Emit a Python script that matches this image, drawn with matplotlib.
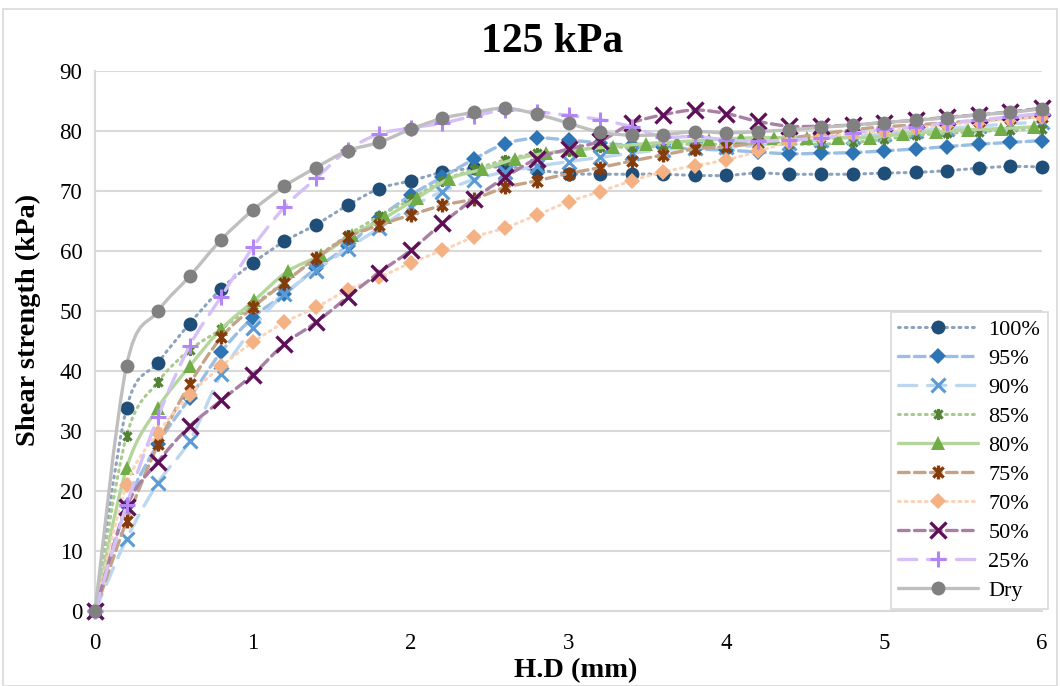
import numpy as np
import matplotlib
matplotlib.use("Agg")
import matplotlib.pyplot as plt
from matplotlib.path import Path
from matplotlib.patches import PathPatch, Rectangle
from matplotlib.lines import Line2D

plt.rcParams['font.family'] = ['Liberation Serif', 'DejaVu Serif']

# Horizontal displacement (mm)
hd = [0.0, 0.2, 0.4, 0.6, 0.8, 1.0, 1.2, 1.4, 1.6, 1.8, 2.0, 2.2, 2.4, 2.6, 2.8, 3.0,
      3.2, 3.4, 3.6, 3.8, 4.0, 4.2, 4.4, 4.6, 4.8, 5.0, 5.2, 5.4, 5.6, 5.8, 6.0]
hd_80 = [0.0, 0.2, 0.4, 0.6, 0.8, 1.01, 1.22, 1.43, 1.63, 1.84, 2.04, 2.24, 2.45, 2.66, 2.86,
         3.07, 3.28, 3.49, 3.69, 3.89, 4.09, 4.30, 4.51, 4.71, 4.91, 5.12, 5.33, 5.53, 5.74, 5.95]

# Shear strength (kPa) per saturation level
s100 = [0, 33.8, 41.4, 47.9, 53.7, 58.0, 61.6, 64.4, 67.6, 70.4, 71.7,
        73.1, 73.8, 74.0, 73.5, 72.9, 72.8, 72.8, 72.8, 72.6, 72.6,
        73.0, 72.8, 72.8, 72.8, 73.0, 73.1, 73.4, 73.8, 74.1, 74.0]
s95 = [0, 17.5, 27.9, 35.5, 43.2, 48.9, 52.8, 57.1, 60.8, 65.5, 69.3,
       72.3, 75.3, 77.9, 78.8, 78.5, 78.0, 77.6, 77.3, 77.0, 76.8,
       76.5, 76.2, 76.3, 76.4, 76.7, 77.0, 77.4, 77.8, 78.1, 78.4]
s90 = [0, 12.0, 21.4, 28.4, 39.5, 47.1, 52.9, 56.7, 60.4, 63.8, 67.3,
       69.9, 71.9, 73.2, 74.1, 74.9, 75.6, 76.3, 76.9, 77.2, 77.3,
       77.6, 78.0, 78.5, 79.0, 79.5, 80.0, 80.4, 80.8, 81.2, 81.5]
s85 = [0, 29.2, 38.2, 43.5, 47.0, 51.0, 54.8, 58.9, 62.6, 65.8, 68.6,
       71.7, 73.6, 75.2, 76.3, 76.6, 77.3, 77.3, 77.7, 77.8, 77.8,
       77.8, 77.8, 77.8, 78.1, 78.6, 79.3, 79.6, 79.9, 80.2, 80.4]
s80 = [0, 23.8, 33.9, 40.8, 47.0, 51.8, 56.6, 59.3, 62.7, 65.6, 68.8,
       72.0, 73.6, 75.3, 76.3, 76.9, 77.4, 77.9, 78.2, 78.5, 78.8,
       78.9, 78.9, 78.9, 78.9, 79.5, 79.9, 80.2, 80.4, 80.7]
s75 = [0, 15.0, 27.8, 37.8, 45.6, 50.6, 54.7, 58.8, 62.3, 64.3, 66.0,
       67.6, 68.7, 70.6, 71.7, 72.9, 73.9, 75.0, 76.0, 77.0, 77.4,
       78.0, 78.8, 79.5, 80.2, 80.7, 81.0, 81.4, 81.7, 82.1, 82.4]
s70 = [0, 21.0, 29.7, 36.0, 40.8, 44.8, 48.1, 50.6, 53.5, 55.6, 58.0,
       60.1, 62.3, 63.9, 66.0, 68.2, 69.9, 71.7, 73.2, 74.2, 75.2,
       76.6, 78.2, 79.0, 79.5, 80.0, 80.5, 81.0, 81.5, 82.0, 82.3]
s50 = [0, 17.4, 24.9, 30.8, 35.1, 39.4, 44.5, 48.1, 52.3, 56.4, 60.1,
       64.6, 68.7, 72.3, 75.4, 77.0, 78.3, 81.3, 82.7, 83.5, 82.9,
       81.6, 80.8, 80.8, 81.0, 81.4, 81.8, 82.3, 82.7, 83.2, 83.8]
s25 = [0, 17.7, 32.4, 44.2, 52.4, 60.6, 67.3, 72.1, 76.8, 79.5, 80.5,
       81.3, 82.5, 83.5, 83.2, 82.6, 81.9, 80.7, 79.0, 79.1, 78.5,
       78.3, 78.5, 78.8, 79.6, 80.3, 80.7, 81.4, 81.8, 82.4, 82.9]
s_dry = [0, 40.9, 50.0, 55.8, 61.9, 66.8, 70.8, 73.9, 76.7, 78.1, 80.3,
         82.1, 83.1, 83.8, 82.8, 81.3, 79.8, 79.3, 79.4, 79.9, 79.7,
         79.9, 80.2, 80.6, 81.0, 81.4, 81.8, 82.2, 82.7, 83.1, 83.7]

labels = ['100%', '95%', '90%', '85%', '80%', '75%', '70%', '50%', '25%', 'Dry']
x_tick_labels = ['0', '1', '2', '3', '4', '5', '6']
y_tick_labels = ['0', '10', '20', '30', '40', '50', '60', '70', '80', '90']

# asterisk marker: an x crossed by a vertical bar
star = Path([(-1, -1), (1, 1), (-1, 1), (1, -1), (0, -1.35), (0, 1.35)],
            [Path.MOVETO, Path.LINETO, Path.MOVETO, Path.LINETO, Path.MOVETO, Path.LINETO])

dotted = (0, (0.6, 1.6))
dashed = (0, (3.2, 1.6))
longdash = (0, (5.5, 3.2))

styles = [
    dict(x=hd, y=s100, lc='#8EA3BB', ls=dotted, m='o', mc='#1F4E79', ms=10, mew=0, lw=2.2),
    dict(x=hd, y=s95, lc='#9BBFE3', ls=dashed, m='D', mc='#2E75B6', ms=8, mew=0, lw=2.4),
    dict(x=hd, y=s90, lc='#BDD7EE', ls=longdash, m='x', mc='#5B9BD5', ms=10, mew=2.2, lw=2.4),
    dict(x=hd, y=s85, lc='#A9C98F', ls=dotted, m=star, mc='#548235', ms=8, mew=2.2, lw=2.2),
    dict(x=hd_80, y=s80, lc='#B4D69D', ls='-', m='^', mc='#70AD47', ms=10, mew=0, lw=2.4),
    dict(x=hd, y=s75, lc='#C4A389', ls=dashed, m=star, mc='#843C0C', ms=10, mew=2.4, lw=2.4),
    dict(x=hd, y=s70, lc='#FAD3B8', ls=dotted, m='D', mc='#F4B183', ms=8, mew=0, lw=2.2),
    dict(x=hd, y=s50, lc='#A97FA4', ls=dashed, m='x', mc='#5E1157', ms=11, mew=2.4, lw=2.4),
    dict(x=hd, y=s25, lc='#D6C0F8', ls=longdash, m='+', mc='#B385F5', ms=12, mew=2.2, lw=2.4),
    dict(x=hd, y=s_dry, lc='#BFBFBF', ls='-', m='o', mc='#808080', ms=10, mew=0, lw=2.4),
]


def smooth_path(x, y):
    p = np.column_stack([x, y]).astype(float)
    n = len(p)
    verts = [p[0]]
    codes = [Path.MOVETO]
    for i in range(n - 1):
        p0 = p[max(i - 1, 0)]
        p1 = p[i]
        p2 = p[i + 1]
        p3 = p[min(i + 2, n - 1)]
        verts += [p1 + (p2 - p0) / 6.0, p2 - (p3 - p1) / 6.0, p2]
        codes += [Path.CURVE4] * 3
    return Path(verts, codes)


W, H = 1060, 686
fig = plt.figure(figsize=(W / 100, H / 100), dpi=100)
fig.patch.set_facecolor('white')
fig.add_artist(Rectangle((3 / W, 0), 1054 / W, 1 - 9 / H, transform=fig.transFigure,
                         fill=False, edgecolor='#D9D9D9', linewidth=1.2))

ax = fig.add_axes([95 / W, 1 - 611 / H, (1042 - 95) / W, (611 - 71) / H])
ax.set_xlim(0, 6)
ax.set_ylim(0, 90)
ax.set_xticks(range(7))
ax.set_xticklabels(x_tick_labels)
ax.set_yticks(range(0, 91, 10))
ax.set_yticklabels(y_tick_labels)
ax.tick_params(axis='both', length=0, labelsize=16.5)
ax.tick_params(axis='x', pad=16)
ax.tick_params(axis='y', pad=9)
ax.yaxis.grid(True, color='#D9D9D9', linewidth=1.5)
ax.set_axisbelow(True)
for side in ['top', 'right']:
    ax.spines[side].set_visible(False)
for side in ['left', 'bottom']:
    ax.spines[side].set_color('#D9D9D9')
    ax.spines[side].set_linewidth(1.5)

handles = []
for k, st in enumerate(styles):
    z = 3 + k * 2
    patch = PathPatch(smooth_path(st['x'], st['y']), fill=False, edgecolor=st['lc'],
                      linewidth=st['lw'], linestyle=st['ls'], capstyle='round',
                      zorder=z, clip_on=False)
    ax.add_patch(patch)
    filled = st['mew'] == 0
    ax.plot(st['x'], st['y'], linestyle='none', marker=st['m'], markersize=st['ms'],
            markerfacecolor=st['mc'], markeredgecolor=st['mc'],
            markeredgewidth=st['mew'] if not filled else 0, zorder=z + 1, clip_on=False)
    handles.append(Line2D([], [], color=st['lc'], linestyle=st['ls'], linewidth=st['lw'],
                          dash_capstyle='round', solid_capstyle='round',
                          marker=st['m'], markersize=st['ms'], markerfacecolor=st['mc'],
                          markeredgecolor=st['mc'],
                          markeredgewidth=st['mew'] if not filled else 0))

leg = fig.legend(handles, labels, loc='lower right',
                 bbox_to_anchor=(1048 / W, 1 - 609 / H), bbox_transform=fig.transFigure,
                 fontsize=16, frameon=True, fancybox=False, edgecolor='#D9D9D9',
                 framealpha=1, borderaxespad=0, handlelength=3.6, labelspacing=0.38,
                 borderpad=0.35, handletextpad=0.45)
leg.get_frame().set_linewidth(1.2)
leg.set_zorder(50)

fig.text(552 / W, 1 - 42 / H, '125 kPa', ha='center', va='center',
         fontsize=30, fontweight='bold')
fig.text(28 / W, 1 - 320 / H, 'Shear strength (kPa)', ha='center', va='center',
         rotation=90, fontsize=20.5, fontweight='bold')
fig.text(576 / W, 1 - 671 / H, 'H.D (mm)', ha='center', va='center',
         fontsize=20.5, fontweight='bold')

fig.savefig('out.png', dpi=100, facecolor='white')
